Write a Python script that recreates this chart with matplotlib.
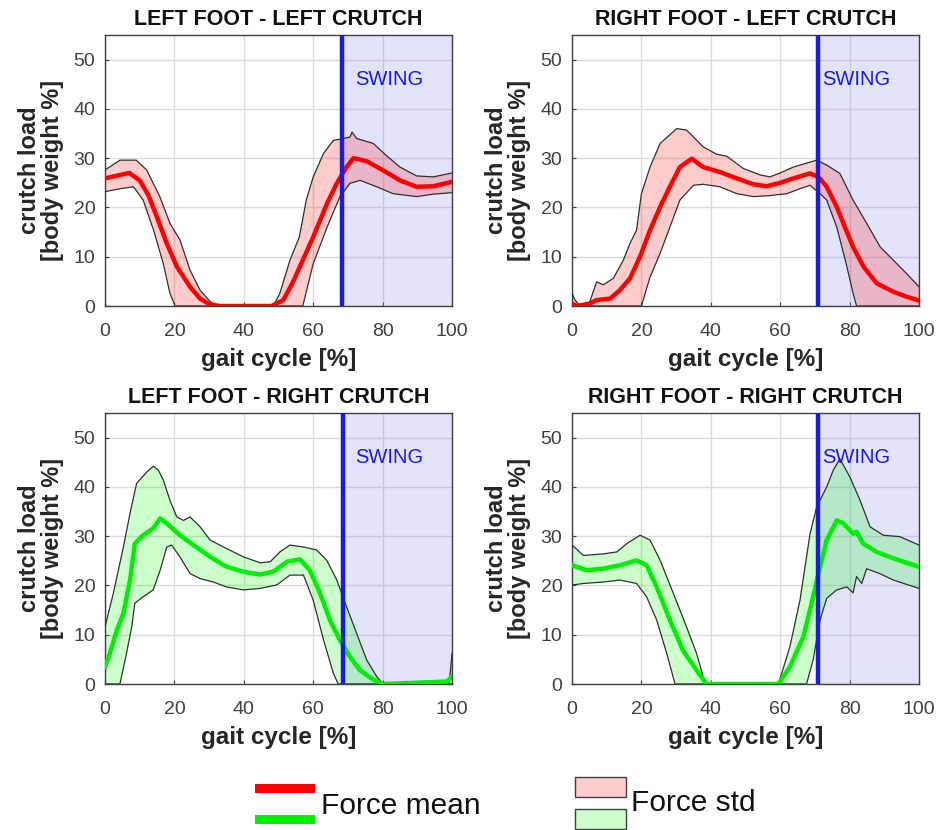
import numpy as np
import matplotlib
matplotlib.use('Agg')
import matplotlib.pyplot as plt
from matplotlib.lines import Line2D
from matplotlib.patches import Rectangle

plt.rcParams['font.family'] = ['Liberation Sans', 'DejaVu Sans']

# ---- data (gait cycle %, body weight %) ----
# LEFT FOOT - LEFT CRUTCH
lflc_mean_x = [0, 2.5, 5, 7, 10, 12.5, 15, 17.8, 20.7, 24.5, 27.4, 30, 33, 48, 51.4, 54, 57, 60, 64, 66.8, 69.6, 71.6, 75.4, 80, 85, 89.8, 94.6, 100]
lflc_mean_y = [25.9, 26.3, 26.7, 27.0, 25.5, 22.5, 18.0, 12.7, 8.0, 3.9, 1.5, 0.4, 0, 0, 1.2, 4.6, 9.3, 14.0, 20.8, 24.9, 28.2, 30.0, 29.4, 27.6, 25.5, 24.2, 24.3, 25.2]
lflc_up_x = [0, 4.3, 9, 12, 15.8, 18.7, 21.6, 24.5, 27.4, 30.3, 32, 48.5, 50.4, 53.3, 56, 58, 60, 63, 65.8, 68.7, 70.6, 71.2, 72.5, 77.3, 81, 85, 89.8, 94.6, 100]
lflc_up_y = [27.6, 29.6, 29.6, 27.6, 22.2, 16.8, 13.4, 7.3, 3.2, 0.9, 0, 0, 2.6, 9.3, 14.0, 21.5, 26.2, 31.0, 33.6, 34.0, 34.3, 35.3, 34.0, 33.0, 30.6, 28.2, 26.4, 26.2, 27.0]
lflc_lo_x = [0, 4.3, 8.2, 11, 14, 16.8, 18.7, 20.2, 57, 60, 64, 67.7, 70.6, 73.5, 78.3, 83, 89.8, 94.6, 100]
lflc_lo_y = [23.2, 23.8, 24.2, 21.5, 15.4, 8.6, 2.6, 0, 0, 8.6, 16.0, 22.2, 24.9, 25.5, 24.2, 22.8, 22.2, 22.7, 23.0]

# RIGHT FOOT - LEFT CRUTCH
rflc_mean_x = [0, 1.3, 5.2, 7.1, 11, 13.8, 16.7, 19.6, 22.5, 25.4, 28.2, 31.1, 34.5, 37.8, 42.6, 47.5, 52.3, 56.1, 60, 63.8, 68.6, 71, 73.4, 76.3, 79, 81, 84, 87.8, 92.6, 96.4, 100]
rflc_mean_y = [0.5, 0, 0.5, 1.2, 1.5, 3.2, 5.6, 10.0, 15.4, 20.1, 24.2, 28.2, 29.9, 28.2, 27.2, 25.9, 24.7, 24.3, 25.0, 25.9, 26.9, 26.2, 24.2, 20.1, 15.4, 12.0, 8.0, 4.6, 2.9, 1.9, 1.1]
rflc_up_x = [0, 0.9, 2.3, 4.7, 7.1, 9, 11.9, 14.8, 16.7, 18.6, 20, 22.5, 25.4, 30.2, 33, 35, 37.8, 41.7, 44.6, 49.4, 54.2, 57, 60, 63.8, 67.6, 70.5, 73.4, 77.2, 81, 84.9, 88.8, 92.6, 96.4, 100]
rflc_up_y = [2.6, 1.2, 0, 0, 4.9, 4.3, 5.6, 9.3, 12.7, 15.4, 22.8, 28.2, 33.0, 36.0, 35.7, 34.3, 32.3, 30.8, 30.4, 27.9, 26.6, 26.2, 27.0, 28.2, 29.0, 29.6, 28.6, 26.9, 21.5, 16.8, 12.0, 9.3, 6.6, 3.9]
rflc_lo_x = [0, 20, 22.5, 25.4, 28.2, 31.1, 35, 37.8, 42.6, 47.5, 52.3, 57, 61.9, 65.7, 68.6, 71.5, 73.4, 76.3, 79, 81, 82, 100]
rflc_lo_y = [0, 0, 5.9, 10.7, 16.0, 21.5, 24.5, 24.7, 24.2, 22.8, 22.2, 22.4, 22.8, 23.8, 24.5, 22.8, 21.5, 16.0, 8.6, 2.6, 0, 0]

# LEFT FOOT - RIGHT CRUTCH
lfrc_mean_x = [0, 1.4, 3.4, 5.3, 7.2, 8.6, 11, 13.9, 15.9, 17.8, 21.6, 25.5, 30.3, 35, 39.9, 44.7, 48.5, 52.4, 56.2, 59, 62, 64.8, 67.7, 70.6, 73.5, 77.3, 80, 98.5, 100]
lfrc_mean_y = [3.5, 6.2, 10.9, 14.3, 21.0, 28.5, 30.2, 31.6, 33.6, 32.6, 30.2, 28.2, 25.8, 23.8, 22.8, 22.2, 22.8, 24.8, 25.3, 23.1, 18.4, 13.0, 8.9, 5.5, 2.8, 0.9, 0, 0.5, 1.5]
lfrc_up_x = [0, 2.4, 5.3, 7.2, 9.1, 12, 13.9, 15.4, 16.8, 18.7, 20.7, 22.6, 24.5, 27.4, 30.3, 35, 39.9, 44.7, 47.6, 50.4, 53.3, 57.2, 61, 63.9, 66.8, 69.6, 72.5, 75.4, 78.3, 80.2, 99.2, 100]
lfrc_up_y = [11.6, 18.4, 27.8, 34.6, 40.7, 43.0, 44.2, 43.4, 41.4, 37.3, 33.9, 33.2, 33.9, 31.9, 29.2, 27.5, 25.8, 24.6, 24.8, 26.8, 28.2, 27.8, 27.2, 25.1, 21.1, 15.7, 10.3, 4.9, 1.5, 0, 0, 6.2]
lfrc_lo_x = [0, 4.3, 6.2, 7.7, 8.6, 11, 13.9, 15.9, 17.8, 19.2, 21.6, 24.5, 27.4, 31.2, 35, 39.9, 44.7, 49.5, 53.3, 57.2, 60, 63, 65.8, 67.2, 100]
lfrc_lo_y = [0, 0, 6.2, 11.6, 16.4, 17.7, 19.1, 23.1, 27.8, 28.2, 25.8, 22.4, 21.4, 20.7, 19.7, 19.1, 19.4, 20.1, 22.1, 22.1, 17.0, 8.9, 2.2, 0, 0]

# RIGHT FOOT - RIGHT CRUTCH
rfrc_mean_x = [0, 4.2, 9, 13.8, 18.6, 21.5, 24.4, 28.2, 32, 35.9, 38.8, 59.5, 62.8, 66.7, 69.5, 71.5, 73.4, 76.3, 78.2, 81, 82, 83.9, 87.8, 92.6, 100]
rfrc_mean_y = [24.1, 23.1, 23.4, 24.1, 25.1, 24.1, 19.7, 13.0, 6.8, 2.8, 0, 0, 3.5, 9.6, 17.7, 23.8, 29.2, 33.2, 32.6, 30.5, 30.9, 28.5, 26.8, 25.5, 23.8]
rfrc_up_x = [0, 3.3, 9, 12.9, 15.8, 19.6, 22.5, 25.4, 29.2, 33, 35.9, 37.8, 38.8, 59.5, 62.8, 65.7, 68.6, 70.5, 73.4, 75.3, 77.2, 80.1, 83, 85.9, 89.7, 94.5, 100]
rfrc_up_y = [28.2, 26.1, 26.4, 26.8, 28.5, 30.2, 29.2, 25.1, 18.4, 11.6, 6.2, 1.5, 0, 0, 7.6, 17.0, 30.5, 35.9, 40.0, 43.4, 45.7, 42.0, 37.3, 31.9, 30.2, 29.9, 28.2]
rfrc_lo_x = [0, 3.3, 9, 13.8, 18.6, 21.5, 24.4, 27.3, 29.7, 67.6, 69.5, 71.5, 73.4, 76.3, 79.2, 81, 82, 83.5, 84.9, 88.7, 92.6, 100]
rfrc_lo_y = [20.1, 20.4, 20.7, 21.1, 20.4, 17.7, 13.0, 6.2, 0, 0, 4.9, 13.0, 17.4, 19.1, 19.7, 18.5, 21.8, 20.4, 23.4, 22.4, 21.1, 19.4]

titles = ['LEFT FOOT - LEFT CRUTCH', 'RIGHT FOOT - LEFT CRUTCH',
          'LEFT FOOT - RIGHT CRUTCH', 'RIGHT FOOT - RIGHT CRUTCH']
swing_start = [68.4, 70.9, 68.6, 70.9]

panels = [
    (lflc_mean_x, lflc_mean_y, lflc_up_x, lflc_up_y, lflc_lo_x, lflc_lo_y),
    (rflc_mean_x, rflc_mean_y, rflc_up_x, rflc_up_y, rflc_lo_x, rflc_lo_y),
    (lfrc_mean_x, lfrc_mean_y, lfrc_up_x, lfrc_up_y, lfrc_lo_x, lfrc_lo_y),
    (rfrc_mean_x, rfrc_mean_y, rfrc_up_x, rfrc_up_y, rfrc_lo_x, rfrc_lo_y),
]
line_colors = ['#ff0000', '#ff0000', '#00ee00', '#00ee00']
fill_colors = [(1, 0, 0, 0.2), (1, 0, 0, 0.2), (0, 1, 0, 0.2), (0, 1, 0, 0.2)]

W, H = 936, 830
fig = plt.figure(figsize=(W / 100, H / 100), dpi=100)

# axes boxes in pixels: left, top, right, bottom
boxes = [(105, 35, 452, 306), (572, 35, 919, 306),
         (105, 413, 452, 684), (572, 413, 919, 684)]

txt_col = '#262626'
for i, (l, t, r, b) in enumerate(boxes):
    ax = fig.add_axes([l / W, 1 - b / H, (r - l) / W, (b - t) / H])
    mx, my, ux, uy, lx, ly = panels[i]

    ax.axvspan(swing_start[i], 100, color=(0.5, 0.5, 0.95, 0.22), lw=0, zorder=1)
    poly_x = np.concatenate([ux, lx[::-1]])
    poly_y = np.concatenate([uy, ly[::-1]])
    ax.fill(poly_x, poly_y, facecolor=fill_colors[i], edgecolor='none', zorder=2)
    ax.plot(ux, uy, color='#303030', lw=0.9, zorder=3)
    ax.plot(lx, ly, color='#303030', lw=0.9, zorder=3)
    ax.plot(mx, my, color=line_colors[i], lw=3.2, zorder=4)
    ax.axvline(swing_start[i], color='#1a1ae6', lw=3.2, zorder=5)
    ax.text(72, 46, 'SWING', color='#1a1ae6', fontsize=14.5, va='center', ha='left', zorder=6)

    ax.set_xlim(0, 100)
    ax.set_ylim(0, 55)
    ax.set_xticks(np.arange(0, 101, 20))
    ax.set_yticks(np.arange(0, 51, 10))
    ax.grid(True, color='#dcdcdc', lw=1)
    ax.set_axisbelow(True)
    ax.tick_params(direction='in', length=3, labelsize=14, colors='#404040')
    ax.tick_params(axis='x', pad=12)
    ax.tick_params(axis='y', pad=7)
    for s in ax.spines.values():
        s.set_color('#404040')
        s.set_linewidth(1)
    ax.set_title(titles[i], fontsize=15.5, fontweight='bold', color='#111111', pad=7)
    ax.set_xlabel('gait cycle [%]', fontsize=17.5, fontweight='bold', color=txt_col, labelpad=6)
    ax.set_ylabel('crutch load\n[body weight %]', fontsize=17, fontweight='bold',
                  color=txt_col, linespacing=1.0, labelpad=7)

# legend drawn in figure pixels
def fx(px):
    return px / W

def fy(py):
    return 1 - py / H

fig.add_artist(Line2D([fx(259), fx(310)], [fy(788), fy(788)], color='#ff0000', lw=6.5))
fig.add_artist(Line2D([fx(259), fx(310)], [fy(819), fy(819)], color='#00ee00', lw=6.5))
fig.text(fx(321), fy(806), 'Force mean', fontsize=21.5, va='center', ha='left', color='#111111')
fig.add_artist(Rectangle((fx(575), fy(797)), fx(51), 20 / H, facecolor='#ffcccc',
                         edgecolor='#404040', lw=1))
fig.add_artist(Rectangle((fx(575), fy(829)), fx(51), 20 / H, facecolor='#ccffcc',
                         edgecolor='#404040', lw=1))
fig.text(fx(631), fy(803), 'Force std', fontsize=21.5, va='center', ha='left', color='#111111')

fig.savefig('out.png', dpi=100)
